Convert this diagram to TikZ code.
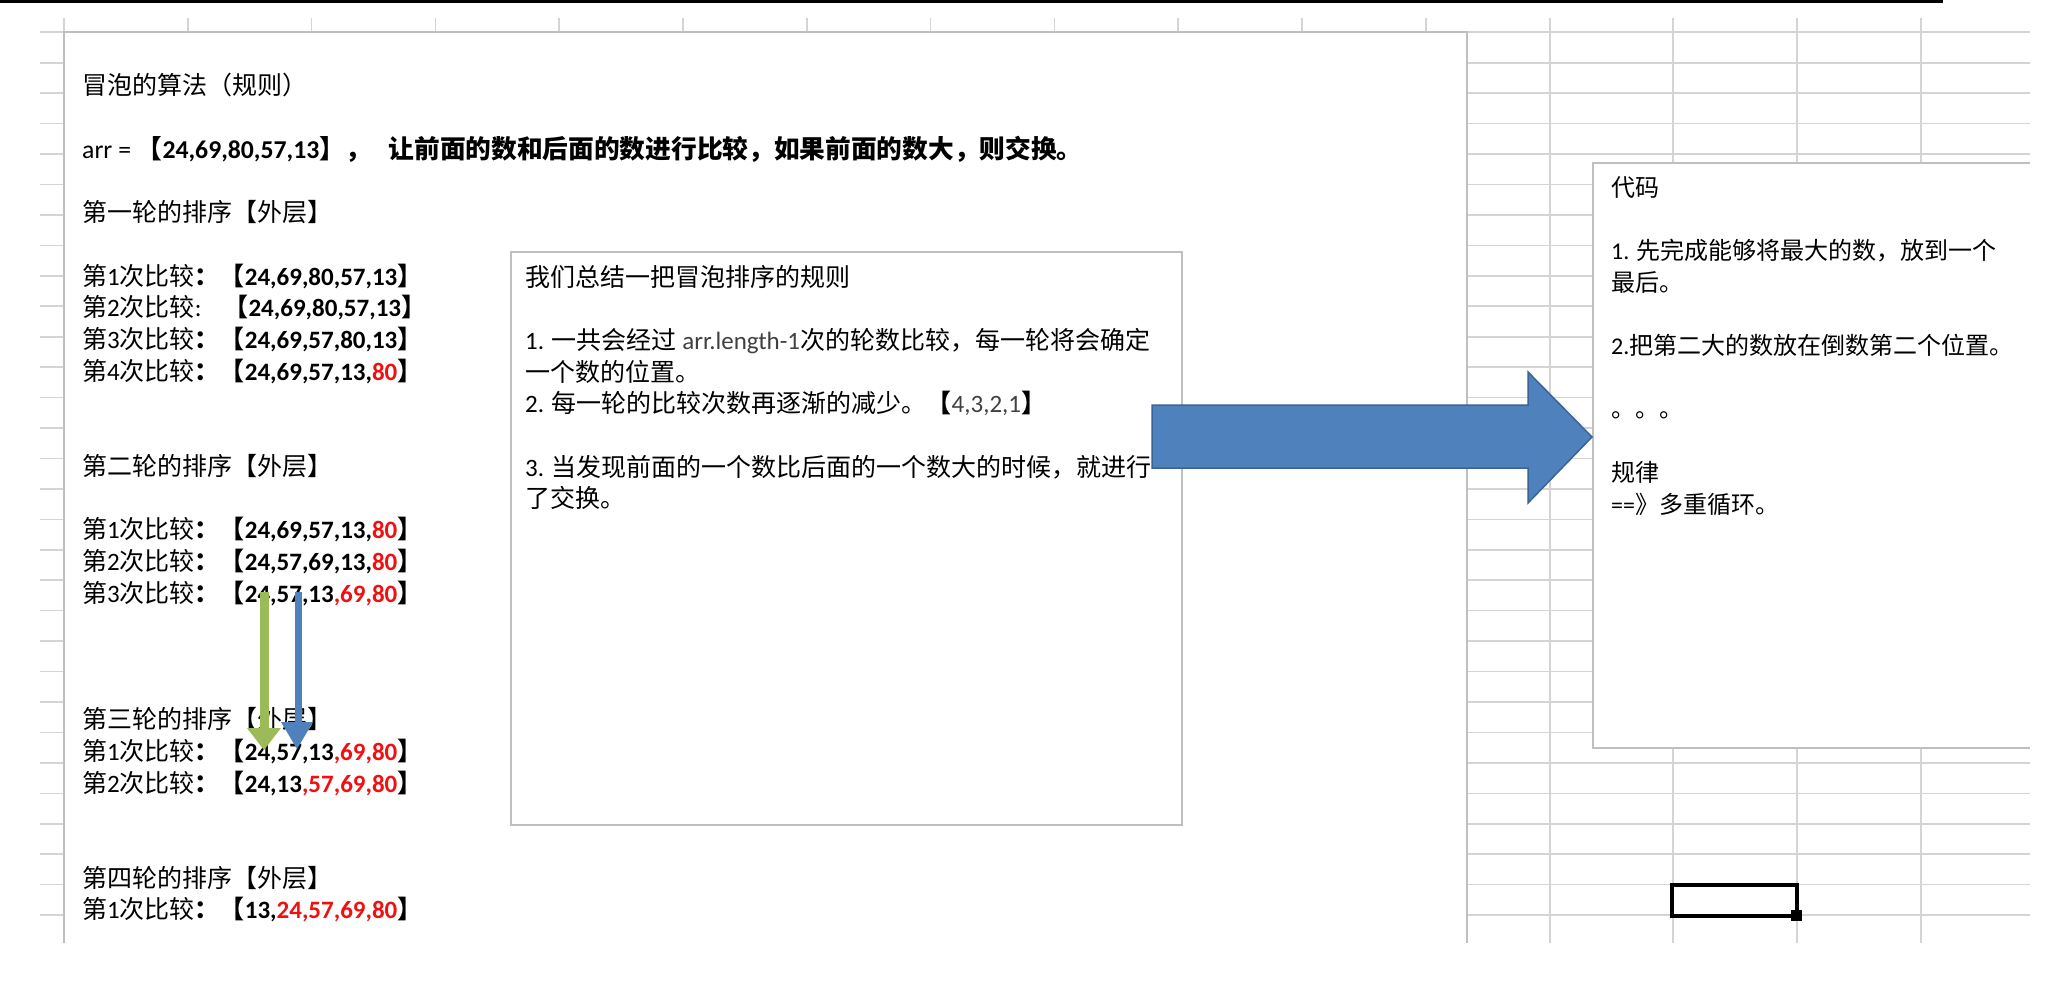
\documentclass[tikz,border=0pt]{standalone}
\usepackage{fontspec}
\setmainfont{Noto Sans CJK SC}
\newfontfamily\lat{Carlito}
\definecolor{gridc}{HTML}{D4D4D4}
\definecolor{boxc}{HTML}{BFBFBF}
\definecolor{blueA}{HTML}{4F81BD}
\definecolor{blueB}{HTML}{3A6496}
\definecolor{greenA}{HTML}{9BBB59}
\definecolor{redA}{HTML}{F01010}
\definecolor{grayT}{HTML}{404040}
\newcommand\rd[1]{\textcolor{redA}{#1}}
\newcommand\cmp[2]{第{\lat #1}次比较\textbf{：【{\lat #2}】}}
\begin{document}
\begin{tikzpicture}[x=1pt,y=-1pt,
  gridline/.style={draw=gridc,line width=1.6pt},
  boxedge/.style={draw=boxc,line width=2pt},
  txt/.style={anchor=base west,inner sep=0pt,font=\fontsize{25}{25}\selectfont},
  txtb/.style={anchor=base west,inner sep=0pt,font=\fontsize{25.7}{25.7}\selectfont},
  txtr/.style={anchor=base west,inner sep=0pt,font=\fontsize{24}{24}\selectfont},
]
\useasboundingbox (0,0) rectangle (2065,982);
\fill[white] (0,0) rectangle (2065,982);
% top black bar
\fill[black] (0,0) rectangle (1943,3.5);
% spreadsheet grid
\foreach \r in {0,...,29}{
  \draw[gridline] (40,{32.3+30.44*\r}) -- (64,{32.3+30.44*\r});
  \draw[gridline] (1467,{32.3+30.44*\r}) -- (2030,{32.3+30.44*\r});
}
\foreach \c in {0,...,11}{
  \draw[gridline] ({64+123.8*\c},18) -- ({64+123.8*\c},32.3);
}
\foreach \xx in {1550,1673,1797,1921}{
  \draw[gridline] (\xx,18) -- (\xx,943);
}
% main text box
\fill[white] (64,32.3) rectangle (1467,943);
\draw[boxedge] (64,943) -- (64,32.3) -- (1467,32.3) -- (1467,943);
% left column text
\node[txt] (l0) at (82,95) {冒泡的算法（规则）};
\node[txtb] (l2) at (82,{95+31.69*2}) {{\lat arr = }\textbf{【{\lat 24,69,80,57,13}】，\hspace{18pt}让前面的数和后面的数进行比较，如果前面的数大，则交换。}};
\node[txt] (l4) at (82,{95+31.69*4}) {第一轮的排序【外层】};
\node[txt] (l6) at (82,{95+31.69*6}) {\cmp{1}{24,69,80,57,13}};
\node[txt] (l7) at (82,{95+31.69*7}) {第{\lat 2}次比较{\lat :}\hspace{22pt}\textbf{【{\lat 24,69,80,57,13}】}};
\node[txt] (l8) at (82,{95+31.69*8}) {\cmp{3}{24,69,57,80,13}};
\node[txt] (l9) at (82,{95+31.69*9}) {\cmp{4}{24,69,57,13,\rd{80}}};
\node[txt] (l12) at (82,{95+31.69*12}) {第二轮的排序【外层】};
\node[txt] (l14) at (82,{95+31.69*14}) {\cmp{1}{24,69,57,13,\rd{80}}};
\node[txt] (l15) at (82,{95+31.69*15}) {\cmp{2}{24,57,69,13,\rd{80}}};
\node[txt] (l16) at (82,{95+31.69*16}) {\cmp{3}{24,57,13\rd{,69,80}}};
\node[txt] (l20) at (82,{95+31.69*20}) {第三轮的排序【外层】};
\node[txt] (l21) at (82,{95+31.69*21}) {\cmp{1}{24,57,13\rd{,69,80}}};
\node[txt] (l22) at (82,{95+31.69*22}) {\cmp{2}{24,13\rd{,57,69,80}}};
\node[txt] (l25) at (82,{95+31.69*25}) {第四轮的排序【外层】};
\node[txt] (l26) at (82,{95+31.69*26}) {\cmp{1}{13,\rd{24,57,69,80}}};
% middle box
\node[draw=boxc,line width=2pt,fill=white,anchor=north west,inner sep=0pt,
      minimum width=671pt,minimum height=573pt] (mid) at (510,251) {};
\node[txt] (m0) at (525,286) {我们总结一把冒泡排序的规则};
\node[txt] (m2) at (525,{286+31.7*2}) {{\lat 1. }一共会经过{\lat\color{grayT} ~arr.length-1}次的轮数比较，每一轮将会确定};
\node[txt] (m3) at (525,{286+31.7*3}) {一个数的位置。};
\node[txt] (m4) at (525,{286+31.7*4}) {{\lat 2. }每一轮的比较次数再逐渐的减少。\textbf{【}{\lat\color{grayT}4,3,2,1}\textbf{】}};
\node[txt] (m6) at (525,{286+31.7*6}) {{\lat 3. }当发现前面的一个数比后面的一个数大的时候，就进行};
\node[txt] (m7) at (525,{286+31.7*7}) {了交换。};
% left thin arrows
\coordinate (g1) at (264,592);
\coordinate (g2) at (264,750);
\coordinate (b1) at (299,592);
\coordinate (b2) at (297,749);
\fill[greenA] ([xshift=-4.5pt]g1) rectangle ([xshift=4.5pt,yshift=22pt]g2);
\fill[greenA] ([xshift=-17pt,yshift=22pt]g2) -- ([xshift=17pt,yshift=22pt]g2) -- (g2) -- cycle;
\fill[blueA] ([xshift=-4.5pt]b1) rectangle ([xshift=4.5pt,yshift=27pt]b2);
\fill[blueA] ([xshift=-16pt,yshift=27pt]b2) -- ([xshift=16pt,yshift=27pt]b2) -- (b2) -- cycle;
% right text box
\fill[white] (1593,163) rectangle (2030,748);
\draw[boxedge] (2030,163) -- (1593,163) -- (1593,748) -- (2030,748);
\node[txtr] (r0) at (1611,196) {代码};
\node[txtr] (r2) at (1611,{196+31.7*2}) {{\lat 1. }先完成能够将最大的数，放到一个};
\node[txtr] (r3) at (1611,{196+31.7*3}) {最后。};
\node[txtr] (r5) at (1611,{196+31.7*5}) {{\lat 2.}把第二大的数放在倒数第二个位置。};
\node[txtr] (r7) at (1611,{196+31.7*7}) {。。。};
\node[txtr] (r9) at (1611,{196+31.7*9}) {规律};
\node[txtr] (r10) at (1611,{196+31.7*10}) {{\lat ==}》多重循环。};
% big blue arrow
\coordinate (a0) at (1152,437);
\coordinate (a1) at (1592,437);
\filldraw[fill=blueA,draw=blueB,line width=1.5pt]
  ([yshift=32pt]a0) -- ([xshift=-64pt,yshift=32pt]a1) -- ([xshift=-64pt,yshift=65pt]a1)
  -- (a1) -- ([xshift=-64pt,yshift=-66pt]a1) -- ([xshift=-64pt,yshift=-31pt]a1)
  -- ([yshift=-31pt]a0) -- cycle;
% selected cell
\draw[black,line width=4pt] (1672,885) rectangle (1797,916);
\fill[black] (1791,910) rectangle (1802,921);
\end{tikzpicture}
\end{document}
